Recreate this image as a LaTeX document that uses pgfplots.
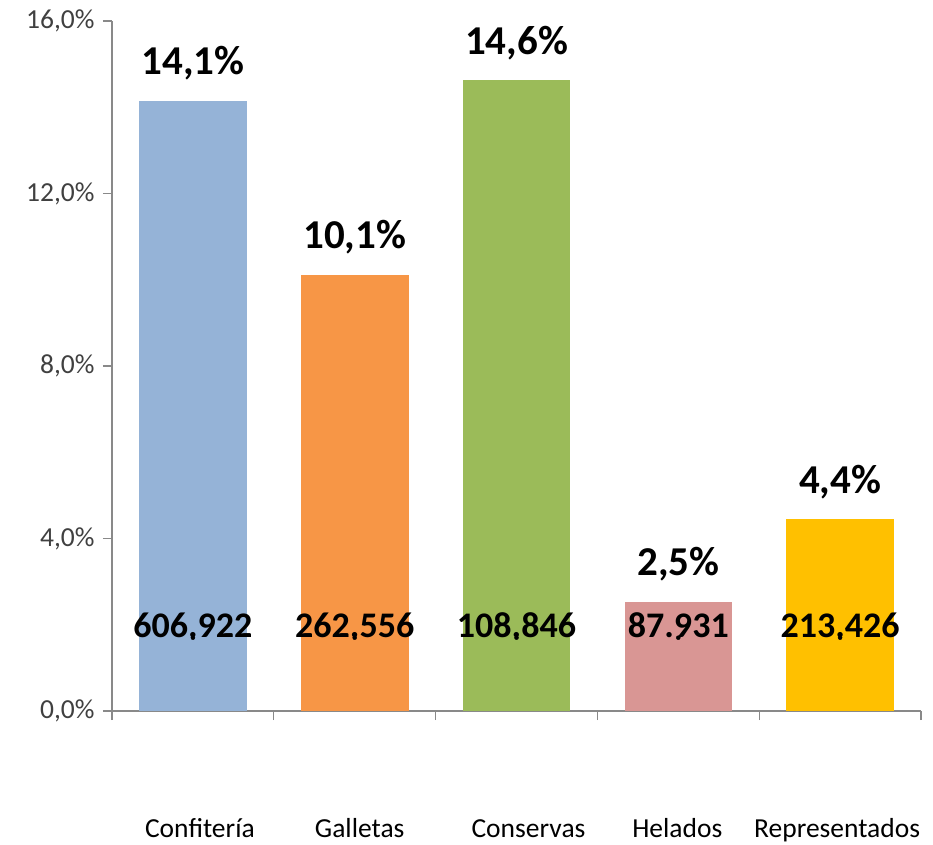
\documentclass[border=0pt]{standalone}
\usepackage{fontspec}
\setmainfont{Carlito}
\usepackage{pgfplots}
\pgfplotsset{compat=1.18}
\definecolor{cBlue}{HTML}{95B3D7}
\definecolor{cOrange}{HTML}{F79646}
\definecolor{cGreen}{HTML}{9BBB59}
\definecolor{cPink}{HTML}{D99694}
\definecolor{cYellow}{HTML}{FFC000}
\definecolor{axgray}{HTML}{898989}
\definecolor{lblgray}{HTML}{404040}
\begin{document}
\begin{tikzpicture}
\useasboundingbox (-112pt,-133pt) rectangle (821pt,711pt);
\begin{axis}[
  at={(0pt,0pt)}, anchor=south west,
  scale only axis, width=809pt, height=690pt,
  xmin=-0.5, xmax=4.5, ymin=0, ymax=16,
  axis lines*=left, clip=false,
  axis line style={draw=axgray, line width=1.3pt},
  tick style={draw=axgray, line width=1.3pt},
  tick align=outside, major tick length=9pt,
  ytick={0,4,8,12,16},
  yticklabels={{0,0\%},{4,0\%},{8,0\%},{12,0\%},{16,0\%}},
  yticklabel style={font=\fontsize{27.5}{27.5}\selectfont, text=lblgray, xshift=-5pt},
  xtick={-0.5,0.5,1.5,2.5,3.5,4.5}, xticklabels={},
  extra x ticks={0,1,2,3,4},
  extra x tick labels={\hspace*{14pt}Confitería,\hspace*{10pt}Galletas,\hspace*{24pt}Conservas,Helados\hspace*{2pt},Representados\hspace*{6pt}},
  extra x tick style={tick style={draw=none},
    xticklabel style={font=\fontsize{27.5}{27.5}\selectfont, text=black, anchor=base, yshift=-117pt}},
  toplbl/.style={nodes near coords={\pgfplotspointmeta}, point meta=explicit symbolic,
    every node near coord/.style={font=\bfseries\fontsize{41}{41}\selectfont, text=black, anchor=base, yshift=26pt}},
]
\addplot[ybar, bar width=0.665, bar shift=0pt, fill=cBlue, draw=none, toplbl] coordinates {(0,14.15) [14,1\%]};
\addplot[ybar, bar width=0.665, bar shift=0pt, fill=cOrange, draw=none, toplbl] coordinates {(1,10.12) [10,1\%]};
\addplot[ybar, bar width=0.665, bar shift=0pt, fill=cGreen, draw=none, toplbl] coordinates {(2,14.63) [14,6\%]};
\addplot[ybar, bar width=0.665, bar shift=0pt, fill=cPink, draw=none, toplbl] coordinates {(3,2.53) [2,5\%]};
\addplot[ybar, bar width=0.665, bar shift=0pt, fill=cYellow, draw=none, toplbl] coordinates {(4,4.45) [4,4\%]};
\addplot[only marks, mark=*, mark options={draw=none, fill=none},
  nodes near coords={\pgfplotspointmeta}, point meta=explicit symbolic,
  every node near coord/.style={font=\bfseries\fontsize{36}{36}\selectfont, text=black, anchor=base}]
  coordinates {(0,1.7) [606{.}922] (1,1.7) [262{.}556] (2,1.7) [108{.}846] (3,1.7) [87{.}931] (4,1.7) [213{.}426]};
\end{axis}
\end{tikzpicture}
\end{document}
